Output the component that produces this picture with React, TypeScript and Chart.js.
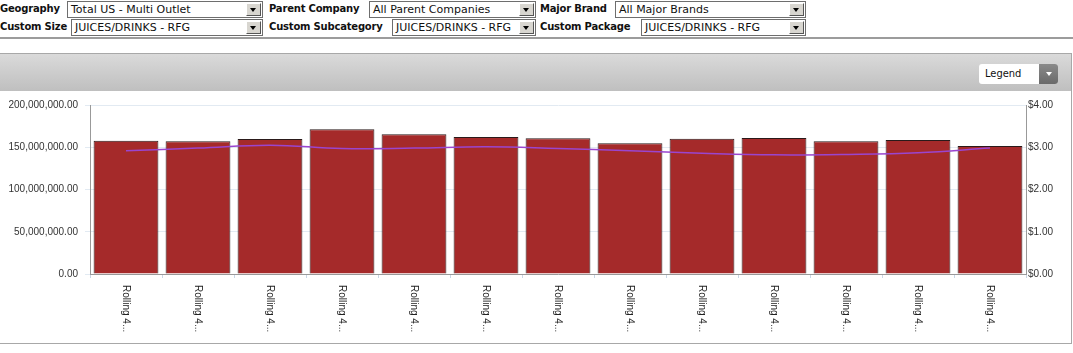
import React, { useEffect, useRef } from "react";
import { Chart, registerables } from "chart.js";

Chart.register(...registerables);

const categories = [
  "Rolling 4...", "Rolling 4...", "Rolling 4...", "Rolling 4...", "Rolling 4...",
  "Rolling 4...", "Rolling 4...", "Rolling 4...", "Rolling 4...", "Rolling 4...",
  "Rolling 4...", "Rolling 4...", "Rolling 4...",
];
const dollarSales = [
  157700000, 157000000, 159800000, 171200000, 165300000, 162100000, 160600000,
  154700000, 160100000, 161000000, 157000000, 158600000, 151500000,
];
const avgPrice = [2.92, 2.98, 3.05, 2.97, 2.98, 3.01, 2.97, 2.92, 2.86, 2.82, 2.83, 2.87, 2.98];

const leftTicksMax = 200000000;
const leftStep = 50000000;
const rightTicksMax = 4;

const FONT = "'Liberation Sans', Arial, sans-serif";
const UI_FONT = "Verdana, 'DejaVu Sans', sans-serif";

const rotatedLabels = {
  id: "rotatedLabels",
  afterDraw(chart: any) {
    const xs = chart.scales.x;
    const ctx = chart.ctx;
    ctx.save();
    ctx.font = `10px ${FONT}`;
    ctx.fillStyle = "#222";
    ctx.textAlign = "left";
    ctx.textBaseline = "middle";
    const labels = chart.data.labels as string[];
    labels.forEach((lab, i) => {
      const x = xs.getPixelForValue(i);
      ctx.save();
      ctx.translate(x, xs.top + 11);
      ctx.rotate(Math.PI / 2);
      ctx.fillText(lab, 0, 0);
      ctx.restore();
    });
    ctx.restore();
  },
};

function FakeSelect({ left, top, width, text }: { left: number; top: number; width: number; text: string }) {
  return (
    <div
      style={{
        position: "absolute",
        left,
        top,
        width: width - 2,
        height: 15,
        border: "1px solid #6e6e6e",
        background: "#fff",
        boxSizing: "content-box",
      }}
    >
      <div
        style={{
          position: "absolute",
          left: 3,
          top: 0,
          fontFamily: UI_FONT,
          fontSize: 11,
          lineHeight: "15px",
          color: "#111",
          whiteSpace: "nowrap",
        }}
      >
        {text}
      </div>
      <div
        style={{
          position: "absolute",
          right: 1,
          top: 1,
          width: 13,
          height: 11,
          background: "#d8d6d0",
          borderTop: "1px solid #fff",
          borderLeft: "1px solid #fff",
          borderRight: "1px solid #555",
          borderBottom: "1px solid #555",
        }}
      >
        <div
          style={{
            position: "absolute",
            left: 3,
            top: 4,
            width: 0,
            height: 0,
            borderLeft: "3.5px solid transparent",
            borderRight: "3.5px solid transparent",
            borderTop: "4px solid #000",
          }}
        />
      </div>
    </div>
  );
}

function Label({ left, top, text }: { left: number; top: number; text: string }) {
  return (
    <div
      style={{
        position: "absolute",
        left,
        top,
        fontFamily: UI_FONT,
        fontSize: 10,
        fontWeight: "bold",
        letterSpacing: "-0.2px",
        lineHeight: "17px",
        color: "#111",
        whiteSpace: "nowrap",
      }}
    >
      {text}
    </div>
  );
}

export default function App() {
  const canvasRef = useRef<HTMLCanvasElement | null>(null);

  useEffect(() => {
    if (!canvasRef.current) return;
    const chart = new Chart(canvasRef.current, {
      type: "bar",
      data: {
        labels: categories,
        datasets: [
          {
            type: "line",
            label: "Avg Price",
            data: avgPrice,
            yAxisID: "y2",
            borderColor: "#9a45cf",
            borderWidth: 1.5,
            pointRadius: 0,
            tension: 0.4,
            fill: false,
            order: 0,
          } as any,
          {
            type: "bar",
            label: "Dollar Sales",
            data: dollarSales,
            yAxisID: "y",
            backgroundColor: "#a52a2a",
            borderColor: "#2a1a1a",
            borderWidth: 1,
            barPercentage: 0.9,
            categoryPercentage: 1,
            order: 1,
          } as any,
        ],
      },
      options: {
        animation: false,
        responsive: false,
        maintainAspectRatio: false,
        layout: { padding: { top: 14, left: 0, right: 0, bottom: 0 } },
        plugins: { legend: { display: false }, tooltip: { enabled: false } },
        scales: {
          x: {
            offset: true,
            grid: {
              offset: true,
              drawOnChartArea: false,
              drawTicks: true,
              tickLength: 4,
              color: "#c9d7e6",
            },
            border: { display: true, color: "#999" },
            ticks: { display: false },
            afterFit(scale: any) {
              scale.height = 68;
            },
          },
          y: {
            position: "left",
            min: 0,
            max: leftTicksMax,
            ticks: {
              stepSize: leftStep,
              padding: 7,
              color: "#333",
              font: { family: FONT, size: 10 },
              callback: (v: any) =>
                Number(v).toLocaleString("en-US", { minimumFractionDigits: 2, maximumFractionDigits: 2 }),
            },
            grid: { color: "#e2eaf2", tickLength: 5, lineWidth: 1 },
            border: { display: true, color: "#999" },
            afterFit(scale: any) {
              scale.width = 90;
            },
          },
          y2: {
            position: "right",
            min: 0,
            max: rightTicksMax,
            ticks: {
              stepSize: 1,
              padding: 2,
              color: "#333",
              font: { family: FONT, size: 10 },
              callback: (v: any) => "$" + Number(v).toFixed(2),
            },
            grid: { drawOnChartArea: false, drawTicks: false },
            border: { display: true, color: "#999" },
            afterFit(scale: any) {
              scale.width = 44;
            },
          },
        },
      },
      plugins: [rotatedLabels],
    });
    return () => chart.destroy();
  }, []);

  return (
    <div
      style={{
        position: "absolute",
        left: 0,
        top: 0,
        width: 1073,
        height: 353,
        background: "#fff",
        overflow: "hidden",
      }}
    >
      <Label left={0} top={0} text="Geography" />
      <FakeSelect left={67} top={1} width={196} text="Total US - Multi Outlet" />
      <Label left={269} top={0} text="Parent Company" />
      <FakeSelect left={369} top={1} width={167} text="All Parent Companies" />
      <Label left={540} top={0} text="Major Brand" />
      <FakeSelect left={615} top={1} width={191} text="All Major Brands" />

      <Label left={0} top={18} text="Custom Size" />
      <FakeSelect left={71} top={19} width={192} text="JUICES/DRINKS - RFG" />
      <Label left={269} top={18} text="Custom Subcategory" />
      <FakeSelect left={392} top={19} width={144} text="JUICES/DRINKS - RFG" />
      <Label left={540} top={18} text="Custom Package" />
      <FakeSelect left={641} top={19} width={165} text="JUICES/DRINKS - RFG" />

      <div style={{ position: "absolute", left: 0, top: 37, width: 1073, height: 2, background: "#9c9c9c" }} />

      <div
        style={{
          position: "absolute",
          left: 0,
          top: 53,
          width: 1071,
          height: 289,
          borderTop: "1px solid #a8a8a8",
          borderRight: "1px solid #a8a8a8",
          borderBottom: "1px solid #a8a8a8",
          background: "#fff",
        }}
      >
        <div
          style={{
            position: "absolute",
            left: 0,
            top: 0,
            width: 1071,
            height: 37,
            background: "linear-gradient(#dadada, #bfbfbf)",
          }}
        />
        <div
          style={{
            position: "absolute",
            left: 979,
            top: 10,
            width: 79,
            height: 20,
            borderRadius: 3,
            background: "#fff",
            overflow: "hidden",
          }}
        >
          <div
            style={{
              position: "absolute",
              left: 6,
              top: 0,
              fontFamily: "'DejaVu Sans Condensed', 'DejaVu Sans', sans-serif",
              fontSize: 11,
              lineHeight: "20px",
              color: "#111",
            }}
          >
            Legend
          </div>
          <div
            style={{
              position: "absolute",
              right: 0,
              top: 0,
              width: 19,
              height: 20,
              background: "linear-gradient(#8a8a8a, #6a6a6a)",
            }}
          >
            <div
              style={{
                position: "absolute",
                left: 7,
                top: 8,
                width: 0,
                height: 0,
                borderLeft: "3px solid transparent",
                borderRight: "3px solid transparent",
                borderTop: "4px solid #fff",
              }}
            />
          </div>
        </div>
      </div>

      <canvas
        ref={canvasRef}
        width={1070}
        height={251}
        style={{ position: "absolute", left: 0, top: 91, width: 1070, height: 251 }}
      />
    </div>
  );
}
